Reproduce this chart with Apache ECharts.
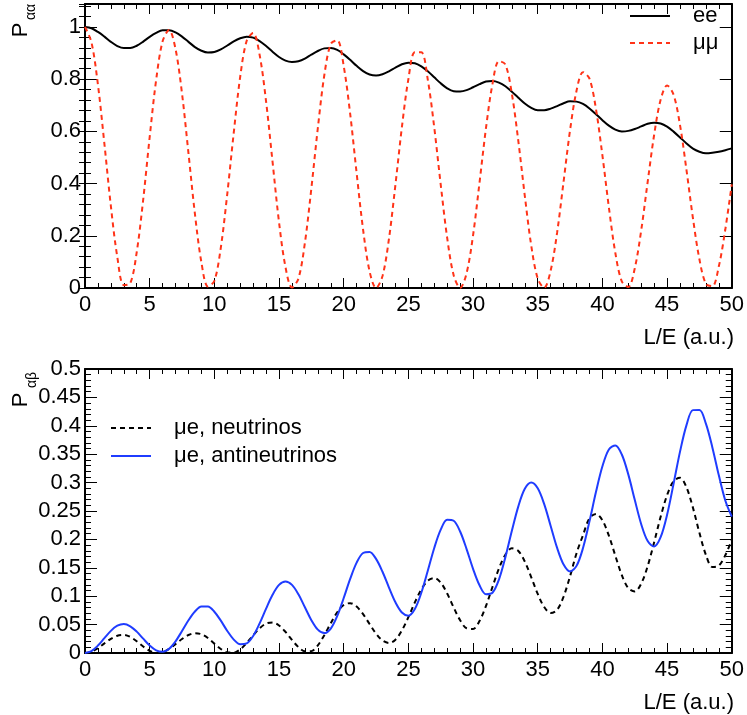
<!DOCTYPE html>
<html><head><meta charset="utf-8">
<script src="https://cdn.jsdelivr.net/npm/echarts@6.0.0/dist/echarts.min.js"></script>
<style>html,body{margin:0;padding:0;background:#fff}#c{width:747px;height:715px}</style>
</head><body><div id="c"></div>
<script>
// L/E sampling positions (a.u.)
const LE = [0,0.5,1,1.5,2,2.5,3,3.5,4,4.5,5,5.5,6,6.5,7,7.5,8,8.5,9,9.5,
10,10.5,11,11.5,12,12.5,13,13.5,14,14.5,15,15.5,16,16.5,17,17.5,18,18.5,19,19.5,
20,20.5,21,21.5,22,22.5,23,23.5,24,24.5,25,25.5,26,26.5,27,27.5,28,28.5,29,29.5,
30,30.5,31,31.5,32,32.5,33,33.5,34,34.5,35,35.5,36,36.5,37,37.5,38,38.5,39,39.5,
40,40.5,41,41.5,42,42.5,43,43.5,44,44.5,45,45.5,46,46.5,47,47.5,48,48.5,49,49.5,50];

// top panel: survival probabilities
const P_EE = [1.000,0.995,0.981,0.963,0.943,0.927,0.919,0.919,0.928,0.944,
0.962,0.977,0.987,0.987,0.979,0.963,0.943,0.923,0.909,0.902,
0.904,0.914,0.929,0.945,0.957,0.963,0.959,0.946,0.927,0.905,
0.885,0.871,0.866,0.869,0.879,0.894,0.908,0.918,0.919,0.912,
0.895,0.874,0.851,0.831,0.818,0.814,0.819,0.830,0.844,0.857,
0.863,0.861,0.849,0.830,0.807,0.784,0.765,0.754,0.753,0.758,
0.769,0.781,0.791,0.793,0.787,0.773,0.752,0.729,0.707,0.690,
0.681,0.681,0.687,0.697,0.708,0.715,0.714,0.705,0.688,0.666,
0.643,0.622,0.607,0.600,0.602,0.609,0.619,0.629,0.633,0.630,
0.618,0.599,0.577,0.554,0.534,0.522,0.516,0.518,0.522,0.528,
0.535];
const P_MUMU = [1.000,0.941,0.779,0.552,0.314,0.118,0.011,0.018,0.138,0.339,
0.578,0.797,0.945,0.988,0.915,0.745,0.516,0.283,0.098,0.006,
0.027,0.155,0.361,0.595,0.810,0.947,0.977,0.893,0.714,0.483,
0.252,0.080,0.002,0.036,0.173,0.382,0.613,0.815,0.935,0.949,
0.850,0.667,0.440,0.223,0.064,0.000,0.046,0.189,0.396,0.617,
0.800,0.903,0.903,0.798,0.615,0.396,0.192,0.049,0.000,0.057,
0.202,0.404,0.613,0.781,0.869,0.856,0.744,0.563,0.353,0.162,
0.036,0.001,0.067,0.213,0.408,0.605,0.756,0.827,0.802,0.686,
0.508,0.309,0.134,0.025,0.004,0.075,0.221,0.407,0.587,0.721,
0.776,0.741,0.624,0.452,0.267,0.110,0.016,0.007,0.083,0.224,
0.397];

// bottom panel: appearance probabilities
const P_MUE_NU = [0,0.0023,0.0085,0.0169,0.025,0.0305,0.0319,0.0283,0.0206,0.0114,
0.0037,0.0001,0.0015,0.0072,0.0157,0.0246,0.0317,0.0349,0.0331,0.0263,
0.0165,0.0071,0.0011,0.0006,0.0065,0.0176,0.0311,0.0436,0.0518,0.0538,
0.0485,0.0371,0.0231,0.0104,0.003,0.0033,0.0134,0.0313,0.0525,0.0718,
0.0846,0.0878,0.0817,0.0683,0.051,0.0342,0.022,0.0176,0.0234,0.0397,
0.0631,0.0891,0.1119,0.1273,0.1319,0.1239,0.1047,0.0802,0.0577,0.0435,
0.0423,0.0564,0.0829,0.1162,0.1487,0.1731,0.1843,0.1796,0.161,0.1333,
0.104,0.0809,0.0703,0.076,0.0994,0.1352,0.1757,0.2075,0.2373,0.2449,
0.2336,0.2065,0.1712,0.1372,0.1142,0.1084,0.1222,0.1531,0.195,0.2397,
0.278,0.3026,0.3085,0.2916,0.2556,0.2116,0.1728,0.1514,0.154,0.172,
0.199];
const P_MUE_NUBAR = [0,0.0035,0.0131,0.0262,0.039,0.048,0.051,0.047,0.0376,0.0252,
0.0132,0.0047,0.002,0.0074,0.0206,0.0387,0.0576,0.0731,0.0819,0.0818,
0.0727,0.0569,0.0388,0.0236,0.0153,0.0168,0.0299,0.0521,0.0782,0.1025,
0.1199,0.126,0.1199,0.1033,0.0805,0.0578,0.0411,0.035,0.043,0.0652,
0.0968,0.1305,0.1591,0.1761,0.1779,0.1657,0.143,0.1152,0.0892,0.0713,
0.0657,0.0774,0.106,0.1447,0.1849,0.2171,0.2345,0.2328,0.2139,0.183,
0.1482,0.1192,0.1035,0.106,0.1293,0.1688,0.2151,0.2582,0.2891,0.300,
0.2899,0.2621,0.2237,0.185,0.1558,0.1437,0.1534,0.1848,0.2317,0.2833,
0.3287,0.3583,0.3655,0.3495,0.3145,0.2698,0.2268,0.197,0.1876,0.2038,
0.2433,0.2978,0.3545,0.4012,0.4276,0.4278,0.4038,0.362,0.3128,0.2684,
0.240];

// series names and axis settings
const NAMES_TOP = ['ee', 'μμ'];
const NAMES_BOTTOM = ['μe, neutrinos', 'μe, antineutrinos'];
const X_RANGE = [0, 50], X_STEP = 5;
const Y_TOP_RANGE = [0, 1.088], Y_TOP_STEP = 0.2, Y_TOP_MINOR = 0.04;
const Y_BOT_RANGE = [0, 0.5], Y_BOT_STEP = 0.05;
const X_TITLE = 'L/E (a.u.)';

const FONT = '"Liberation Sans", Arial, Helvetica, sans-serif';
const FS = 22;
const BLACK = '#000';
const SMOOTH = 0.33;

const pairs = ys => LE.map((x, i) => [x, ys[i]]);

function xAxis(grid, pos, labels) {
  return {
    type: 'value', gridIndex: grid, position: pos,
    min: X_RANGE[0], max: X_RANGE[1], interval: X_STEP,
    axisLine: {show: true, onZero: false, lineStyle: {color: BLACK, width: 2}},
    axisTick: {show: true, inside: true, length: 10, lineStyle: {color: BLACK, width: 1}},
    minorTick: {show: true, splitNumber: 5, length: 5, lineStyle: {color: BLACK, width: 1}},
    splitLine: {show: false}, minorSplitLine: {show: false},
    axisLabel: {show: labels, margin: 6, color: BLACK, fontSize: FS, fontFamily: FONT}
  };
}
function yAxis(grid, pos, range, step, opts) {
  return Object.assign({
    type: 'value', gridIndex: grid, position: pos,
    min: range[0], max: range[1], interval: step,
    axisLine: {show: true, onZero: false, lineStyle: {color: BLACK, width: 2}},
    axisTick: {show: true, inside: true, length: 12, lineStyle: {color: BLACK, width: 1}},
    minorTick: {show: false},
    splitLine: {show: false}, minorSplitLine: {show: false},
    axisLabel: {show: false}
  }, opts);
}
const yLabel = {show: true, margin: 4, color: BLACK, fontSize: FS, fontFamily: FONT, showMaxLabel: true};
const minorTick6 = {show: true, inside: true, length: 6, lineStyle: {color: BLACK, width: 1}};

const option = {
  animation: false,
  backgroundColor: '#fff',
  grid: [
    {left: 85, right: 13, top: 4, height: 284},
    {left: 85, right: 13, top: 369, height: 284}
  ],
  xAxis: [
    xAxis(0, 'bottom', true), xAxis(0, 'top', false),
    xAxis(1, 'bottom', true), xAxis(1, 'top', false)
  ],
  yAxis: [
    yAxis(0, 'left', Y_TOP_RANGE, Y_TOP_STEP, {axisLabel: Object.assign({}, yLabel, {showMaxLabel: false})}),
    yAxis(0, 'left', Y_TOP_RANGE, Y_TOP_MINOR, {axisLine: {show: false}, axisTick: minorTick6}),
    yAxis(0, 'right', Y_TOP_RANGE, Y_TOP_STEP, {}),
    yAxis(0, 'right', Y_TOP_RANGE, Y_TOP_MINOR, {axisLine: {show: false}, axisTick: minorTick6}),
    yAxis(1, 'left', Y_BOT_RANGE, Y_BOT_STEP, {axisLabel: yLabel, minorTick: {show: true, splitNumber: 5, length: 6, lineStyle: {color: BLACK, width: 1}}}),
    yAxis(1, 'right', Y_BOT_RANGE, Y_BOT_STEP, {minorTick: {show: true, splitNumber: 5, length: 6, lineStyle: {color: BLACK, width: 1}}})
  ],
  legend: [
    {
      data: NAMES_TOP, orient: 'vertical', left: 629, top: 5, padding: 0,
      itemWidth: 40, itemHeight: 14, itemGap: 5,
      itemStyle: {opacity: 0},
      textStyle: {fontSize: FS, fontFamily: FONT, color: BLACK, lineHeight: 22, padding: [0, 0, 0, 18]}
    },
    {
      data: NAMES_BOTTOM, orient: 'vertical', left: 110, top: 417, padding: 0,
      itemWidth: 40, itemHeight: 14, itemGap: 6,
      itemStyle: {opacity: 0},
      textStyle: {fontSize: FS, fontFamily: FONT, color: BLACK, lineHeight: 22, padding: [0, 0, 0, 18]}
    }
  ],
  series: [
    {name: NAMES_TOP[0], type: 'line', xAxisIndex: 0, yAxisIndex: 0, data: pairs(P_EE),
     smooth: SMOOTH, symbol: 'none', lineStyle: {color: BLACK, width: 2}, itemStyle: {color: BLACK}},
    {name: NAMES_TOP[1], type: 'line', xAxisIndex: 0, yAxisIndex: 0, data: pairs(P_MUMU),
     smooth: SMOOTH, symbol: 'none', lineStyle: {color: '#ff3318', width: 2, type: [5, 4]}, itemStyle: {color: '#ff3318'}},
    {name: NAMES_BOTTOM[0], type: 'line', xAxisIndex: 2, yAxisIndex: 4, data: pairs(P_MUE_NU),
     smooth: SMOOTH, symbol: 'none', lineStyle: {color: BLACK, width: 2, type: [5, 4]}, itemStyle: {color: BLACK}},
    {name: NAMES_BOTTOM[1], type: 'line', xAxisIndex: 2, yAxisIndex: 4, data: pairs(P_MUE_NUBAR),
     smooth: SMOOTH, symbol: 'none', lineStyle: {color: '#1f3cff', width: 2}, itemStyle: {color: '#1f3cff'}}
  ],
  graphic: [
    {type: 'text', x: 20.5, y: 30, rotation: Math.PI / 2,
     style: {text: 'P', fontSize: FS, fontFamily: FONT, fill: BLACK, align: 'center', verticalAlign: 'middle'}},
    {type: 'text', x: 31, y: 12, rotation: Math.PI / 2,
     style: {text: 'αα', fontSize: 14, fontFamily: FONT, fill: BLACK, align: 'center', verticalAlign: 'middle'}},
    {type: 'text', x: 20.5, y: 400, rotation: Math.PI / 2,
     style: {text: 'P', fontSize: FS, fontFamily: FONT, fill: BLACK, align: 'center', verticalAlign: 'middle'}},
    {type: 'text', x: 32, y: 380, rotation: Math.PI / 2,
     style: {text: 'αβ', fontSize: 14, fontFamily: FONT, fill: BLACK, align: 'center', verticalAlign: 'middle'}},
    {type: 'text', x: 734, y: 338,
     style: {text: X_TITLE, fontSize: FS, fontFamily: FONT, fill: BLACK, align: 'right', verticalAlign: 'middle'}},
    {type: 'text', x: 734, y: 703,
     style: {text: X_TITLE, fontSize: FS, fontFamily: FONT, fill: BLACK, align: 'right', verticalAlign: 'middle'}}
  ]
};
const chart = echarts.init(document.getElementById('c'), null, {renderer: 'canvas'});
chart.setOption(option);
</script></body></html>
